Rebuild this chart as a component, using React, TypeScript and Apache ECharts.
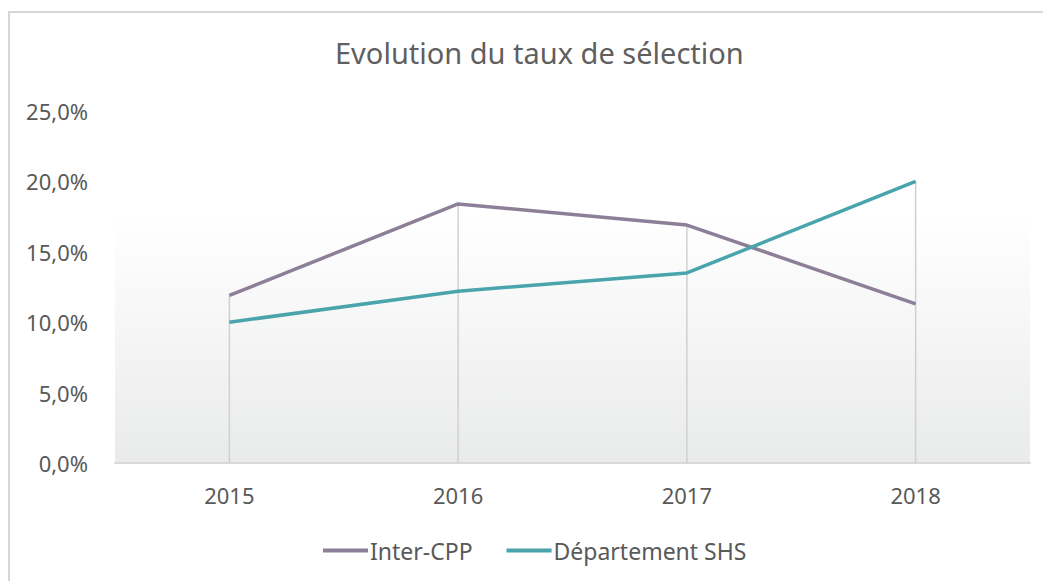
import React, { useEffect, useRef } from "react";
import * as echarts from "echarts";

const years = ["2015", "2016", "2017", "2018"];
const interCPP = [11.9, 18.4, 16.9, 11.3];
const departementSHS = [10.0, 12.2, 13.5, 20.0];
const seriesNames = ["Inter-CPP", "Département SHS"];
const titleText = "Evolution du taux de sélection";

const FONT = "'Noto Sans', sans-serif";

export default function App() {
  const ref = useRef<HTMLDivElement>(null);
  useEffect(() => {
    if (!ref.current) return;
    const chart = echarts.init(ref.current, undefined, { renderer: "svg" });
    const drops = years.map((_, i) => [i, Math.max(interCPP[i], departementSHS[i])]);
    chart.setOption({
      animation: false,
      backgroundColor: "#ffffff",
      title: {
        text: titleText,
        left: 330,
        top: 33,
        textStyle: { fontFamily: FONT, fontSize: 29, fontWeight: "normal", color: "#5f5f5f" },
      },
      legend: {
        bottom: 14,
        left: 318,
        itemWidth: 45,
        itemHeight: 4,
        itemGap: 34,
        icon: "rect",
        textStyle: { fontFamily: FONT, fontSize: 23, color: "#595959", padding: [0, 0, 0, -3] },
        data: seriesNames,
      },
      grid: { left: 115, right: 13, top: 111, bottom: 118 },
      graphic: [
        {
          type: "rect",
          z: -10,
          shape: { x: 9, y: 12, width: 1200, height: 800 },
          style: { fill: "none", stroke: "#d6d6d6", lineWidth: 2 },
        },
        {
          type: "rect",
          z: -5,
          shape: { x: 115, y: 215, width: 915, height: 248 },
          style: {
            fill: new echarts.graphic.LinearGradient(0, 0, 0, 1, [
              { offset: 0, color: "#ffffff" },
              { offset: 1, color: "#e9ebea" },
            ]),
          },
        },
      ],
      xAxis: {
        type: "category",
        data: years,
        boundaryGap: true,
        axisLine: { show: true, lineStyle: { color: "#d9d9d9", width: 2 } },
        axisTick: { show: false },
        axisLabel: { fontFamily: FONT, fontSize: 22, color: "#595959", margin: 21 },
        splitLine: { show: false },
      },
      yAxis: {
        type: "value",
        min: 0,
        max: 25,
        interval: 5,
        axisLine: { show: false },
        axisTick: { show: false },
        splitLine: { show: false },
        axisLabel: {
          fontFamily: FONT,
          fontSize: 22,
          color: "#595959",
          margin: 27,
          formatter: (v: number) => v.toFixed(1).replace(".", ",") + "%",
        },
      },
      series: [
        {
          type: "custom",
          z: 1,
          silent: true,
          data: drops,
          renderItem: (params: any, api: any) => {
            const top = api.coord([api.value(0), api.value(1)]);
            const bottom = api.coord([api.value(0), 0]);
            return {
              type: "line",
              shape: { x1: top[0], y1: top[1], x2: bottom[0], y2: bottom[1] },
              style: { stroke: "#d0d0d0", lineWidth: 1.5 },
            };
          },
        },
        {
          name: seriesNames[0],
          type: "line",
          data: interCPP,
          symbol: "none",
          z: 3,
          lineStyle: { color: "#8c7f97", width: 3.5 },
          itemStyle: { color: "#8c7f97" },
        },
        {
          name: seriesNames[1],
          type: "line",
          data: departementSHS,
          symbol: "none",
          z: 4,
          lineStyle: { color: "#4aa4ab", width: 3.5 },
          itemStyle: { color: "#4aa4ab" },
        },
      ],
    });
    return () => chart.dispose();
  }, []);
  return (
    <div
      ref={ref}
      style={{ position: "fixed", left: 0, top: 0, width: 1043, height: 581 }}
    />
  );
}
